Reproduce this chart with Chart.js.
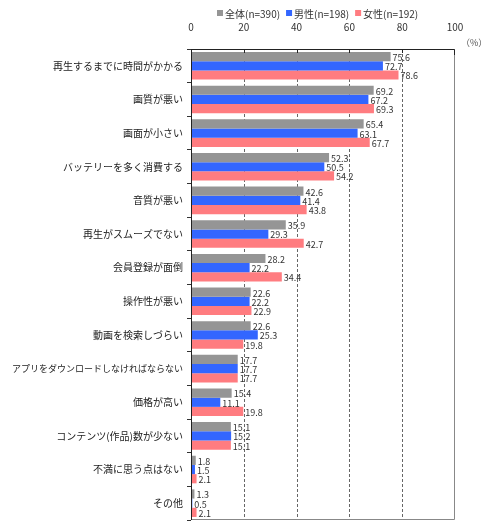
<!DOCTYPE html>
<html>
<head>
<meta charset="utf-8">
<script src="https://cdn.jsdelivr.net/npm/chart.js@4"></script>
<style>
  html, body { margin: 0; padding: 0; background: #fff; }
  #wrap { width: 500px; height: 532px; }
</style>
</head>
<body>
<div id="wrap"><canvas id="myChart"></canvas></div>
<script>
const categories = [
    "再生するまでに時間がかかる", "画質が悪い", "画面が小さい", "バッテリーを多く消費する",
    "音質が悪い", "再生がスムーズでない", "会員登録が面倒", "操作性が悪い",
    "動画を検索しづらい", "アプリをダウンロードしなければならない", "価格が高い",
    "コンテンツ(作品)数が少ない", "不満に思う点はない", "その他"
];
const seriesNames = ["全体(n=390)", "男性(n=198)", "女性(n=192)"];
const totalValues = [75.6, 69.2, 65.4, 52.3, 42.6, 35.9, 28.2, 22.6, 22.6, 17.7, 15.4, 15.1, 1.8, 1.3];
const maleValues = [72.7, 67.2, 63.1, 50.5, 41.4, 29.3, 22.2, 22.2, 25.3, 17.7, 11.1, 15.2, 1.5, 0.5];
const femaleValues = [78.6, 69.3, 67.7, 54.2, 43.8, 42.7, 34.4, 22.9, 19.8, 17.7, 19.8, 15.1, 2.1, 2.1];
const xTicks = [0, 20, 40, 60, 80, 100];

const colors = ["#959595", "#3366ff", "#ff7c80"];
const FONT = "'Noto Sans CJK JP', sans-serif";

// 点線のグリッド
const dashedGrid = {
    id: "dashedGrid",
    beforeDatasetsDraw(chart) {
        const ctx = chart.ctx;
        const area = chart.chartArea;
        const xs = chart.scales.x;
        ctx.save();
        ctx.strokeStyle = "#666";
        ctx.lineWidth = 1;
        ctx.setLineDash([3, 2]);
        xTicks.slice(1, -1).forEach(v => {
            const px = Math.round(xs.getPixelForValue(v)) + 0.5;
            ctx.beginPath();
            ctx.moveTo(px, area.top);
            ctx.lineTo(px, area.bottom);
            ctx.stroke();
        });
        ctx.restore();
    }
};

// ラベル・凡例・枠
const extras = {
    id: "extras",
    afterDatasetsDraw(chart) {
        const ctx = chart.ctx;
        const area = chart.chartArea;
        const xs = chart.scales.x;
        ctx.save();
        // 枠
        ctx.strokeStyle = "#888";
        ctx.lineWidth = 1;
        ctx.beginPath();
        ctx.moveTo(area.left, area.top + 0.5);
        ctx.lineTo(area.right - 0.5, area.top + 0.5);
        ctx.lineTo(area.right - 0.5, area.bottom - 0.5);
        ctx.lineTo(area.left, area.bottom - 0.5);
        ctx.stroke();
        ctx.strokeStyle = "#222";
        ctx.beginPath();
        ctx.moveTo(area.left, area.top + 0.5);
        ctx.lineTo(area.right - 0.5, area.top + 0.5);
        ctx.lineTo(area.right - 0.5, area.top + 6);
        ctx.stroke();
        ctx.beginPath();
        ctx.moveTo(area.left + 0.5, area.top);
        ctx.lineTo(area.left + 0.5, area.bottom);
        ctx.stroke();
        // 上辺の目盛り
        xTicks.slice(1, -1).forEach(v => {
            const px = Math.round(xs.getPixelForValue(v)) + 0.5;
            ctx.beginPath();
            ctx.moveTo(px, area.top);
            ctx.lineTo(px, area.top + 4);
            ctx.stroke();
        });

        // 値ラベル
        ctx.font = "9px " + FONT;
        ctx.fillStyle = "#333";
        ctx.textBaseline = "middle";
        ctx.textAlign = "left";
        chart.data.datasets.forEach((ds, i) => {
            chart.getDatasetMeta(i).data.forEach((bar, j) => {
                ctx.fillText(ds.data[j].toFixed(1), bar.x + 2, bar.y + 1);
            });
        });

        // 凡例
        ctx.font = "10px " + FONT;
        let x = 217;
        const y = 14;
        seriesNames.forEach((name, i) => {
            ctx.fillStyle = colors[i];
            ctx.fillRect(x, y - 4, 6, 6);
            ctx.fillStyle = "#333";
            ctx.fillText(name, x + 8, y);
            x += 8 + ctx.measureText(name).width + 6;
        });

        // 単位
        ctx.font = "9px " + FONT;
        ctx.fillStyle = "#555";
        ctx.fillText("（%）", 461, 43);
        ctx.restore();
    }
};

new Chart(document.getElementById("myChart"), {
    type: "bar",
    data: {
        labels: categories,
        datasets: [
            { label: seriesNames[0], data: totalValues, backgroundColor: colors[0] },
            { label: seriesNames[1], data: maleValues, backgroundColor: colors[1] },
            { label: seriesNames[2], data: femaleValues, backgroundColor: colors[2] }
        ]
    },
    options: {
        indexAxis: "y",
        responsive: true,
        maintainAspectRatio: false,
        animation: false,
        layout: { padding: { top: 0, right: 45, bottom: 12, left: 0 } },
        datasets: { bar: { categoryPercentage: 0.82, barPercentage: 1.0 } },
        plugins: { legend: { display: false }, tooltip: { enabled: false } },
        scales: {
            x: {
                position: "top",
                min: 0,
                max: 100,
                afterFit(scale) { scale.height = 49; },
                afterBuildTicks(scale) { scale.ticks = xTicks.map(v => ({ value: v })); },
                border: { display: false },
                grid: { display: false },
                ticks: { padding: 8, color: "#333", font: { family: FONT, size: 10 } }
            },
            y: {
                afterFit(scale) { scale.width = 191; },
                border: { display: false },
                grid: { drawOnChartArea: false, offset: true, tickLength: 4, color: "#333" },
                ticks: {
                    padding: 4,
                    color: "#222",
                    font: c => ({ family: FONT, size: categories[c.index] && categories[c.index].length > 15 ? 9 : 10 })
                }
            }
        }
    },
    plugins: [dashedGrid, extras]
});
</script>
</body>
</html>
